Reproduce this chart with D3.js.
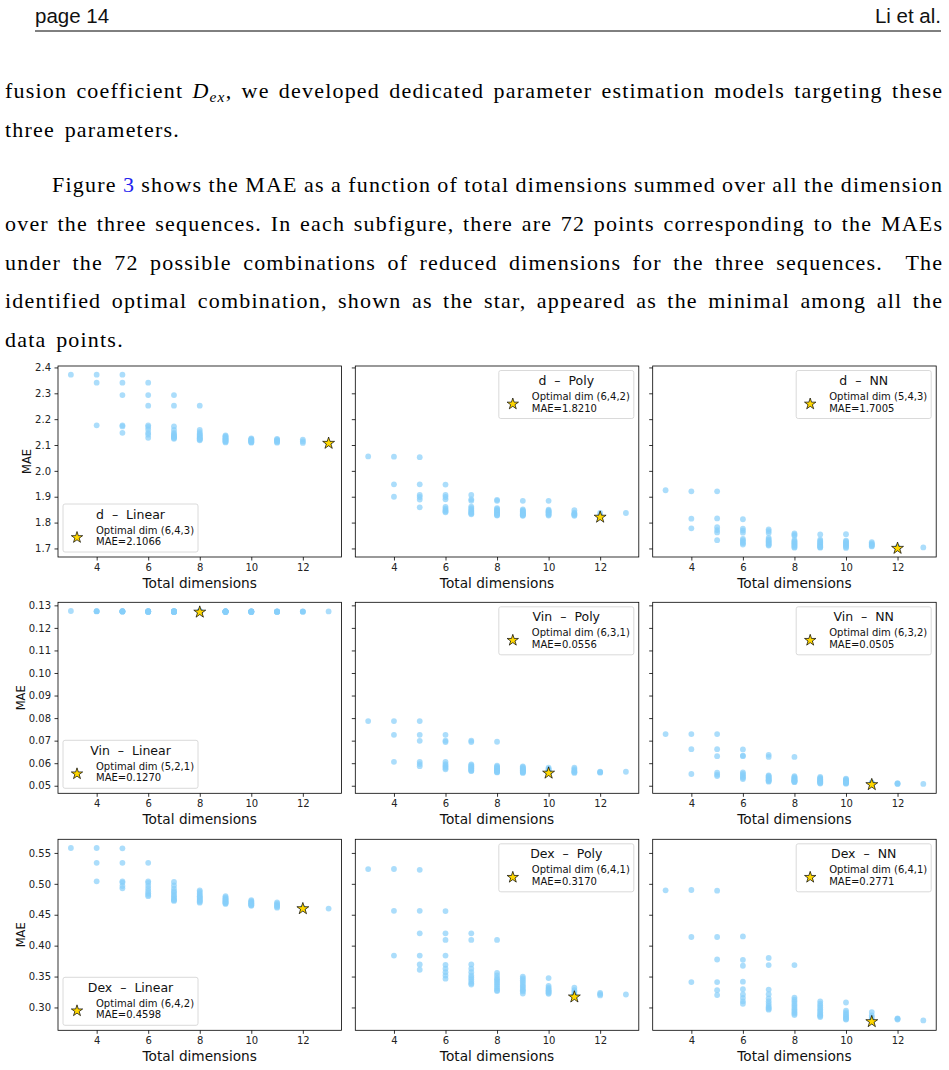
<!DOCTYPE html>
<html>
<head>
<meta charset="utf-8">
<script src="https://cdn.jsdelivr.net/npm/d3@7"></script>
<style>
  body { margin: 0; background: #fff; }
  svg { display: block; }
</style>
</head>
<body>
<div id="page"></div>
<script>
// total dimensions summed over the three sequences (x values of each group below)
const totalDims = [3, 4, 5, 6, 7, 8, 9, 10, 11, 12, 13];
const xTicks = [4, 6, 8, 10, 12];

// MAE values, one inner array per total dimension (72 combinations per panel)
const dLinear = [
  [2.372],
  [2.372, 2.341, 2.176],
  [2.372, 2.341, 2.293, 2.176, 2.172, 2.147],
  [2.341, 2.293, 2.252, 2.176, 2.170, 2.160, 2.147, 2.140, 2.128],
  [2.293, 2.252, 2.172, 2.158, 2.147, 2.142, 2.137, 2.133, 2.130, 2.127, 2.124],
  [2.252, 2.158, 2.150, 2.144, 2.140, 2.136, 2.132, 2.129, 2.126, 2.123, 2.121, 2.118],
  [2.137, 2.134, 2.131, 2.128, 2.125, 2.123, 2.121, 2.118, 2.115, 2.113, 2.110],
  [2.126, 2.123, 2.121, 2.119, 2.117, 2.115, 2.113, 2.111, 2.109],
  [2.124, 2.121, 2.118, 2.115, 2.112, 2.109],
  [2.121, 2.114, 2.108],
  [2.1066]
];
const dPoly = [
  [2.056],
  [2.055, 1.948, 1.900],
  [2.053, 1.948, 1.907, 1.899, 1.889, 1.859],
  [1.947, 1.907, 1.899, 1.890, 1.861, 1.854, 1.848, 1.843, 1.840],
  [1.907, 1.890, 1.884, 1.862, 1.856, 1.851, 1.846, 1.842, 1.838, 1.835, 1.832],
  [1.888, 1.884, 1.856, 1.852, 1.848, 1.845, 1.842, 1.838, 1.835, 1.832, 1.829, 1.827],
  [1.884, 1.851, 1.847, 1.844, 1.841, 1.838, 1.835, 1.832, 1.830, 1.828, 1.826],
  [1.884, 1.850, 1.846, 1.843, 1.840, 1.837, 1.833, 1.830, 1.827],
  [1.848, 1.838, 1.835, 1.832, 1.829, 1.826],
  [1.837, 1.828, 1.8210],
  [1.837]
];
const dNN = [
  [1.925],
  [1.921, 1.815, 1.778],
  [1.921, 1.816, 1.782, 1.771, 1.762, 1.732],
  [1.813, 1.777, 1.769, 1.761, 1.737, 1.731, 1.725, 1.720, 1.715],
  [1.774, 1.767, 1.760, 1.741, 1.735, 1.730, 1.726, 1.722, 1.718, 1.714, 1.711],
  [1.758, 1.753, 1.749, 1.733, 1.728, 1.724, 1.720, 1.717, 1.713, 1.710, 1.706, 1.703],
  [1.754, 1.734, 1.729, 1.725, 1.721, 1.718, 1.714, 1.711, 1.708, 1.705, 1.703],
  [1.755, 1.730, 1.726, 1.722, 1.718, 1.714, 1.710, 1.706, 1.702],
  [1.724, 1.720, 1.716, 1.713, 1.710, 1.708],
  [1.706, 1.703, 1.7005],
  [1.704]
];
const vinLinear = [
  [0.1275],
  [0.1274, 0.1274, 0.1273],
  [0.1274, 0.1274, 0.1273, 0.1273, 0.1273, 0.1272],
  [0.1274, 0.1274, 0.1273, 0.1273, 0.1273, 0.1272, 0.1272, 0.1272, 0.1271],
  [0.1274, 0.1274, 0.1273, 0.1273, 0.1273, 0.1273, 0.1272, 0.1272, 0.1272, 0.1271, 0.1271],
  [0.1274, 0.1274, 0.1273, 0.1273, 0.1273, 0.1273, 0.1272, 0.1272, 0.1272, 0.1271, 0.1271, 0.1270],
  [0.1274, 0.1273, 0.1273, 0.1273, 0.1273, 0.1272, 0.1272, 0.1272, 0.1272, 0.1271, 0.1271],
  [0.1273, 0.1273, 0.1273, 0.1273, 0.1272, 0.1272, 0.1272, 0.1271, 0.1271],
  [0.1273, 0.1273, 0.1272, 0.1272, 0.1272, 0.1271],
  [0.1273, 0.1272, 0.1272],
  [0.1273]
];
const vinPoly = [
  [0.0787],
  [0.0787, 0.0726, 0.0606],
  [0.0787, 0.0726, 0.0699, 0.0606, 0.0596, 0.0587],
  [0.0726, 0.0700, 0.0694, 0.0606, 0.0596, 0.0590, 0.0584, 0.0579, 0.0573],
  [0.0700, 0.0694, 0.0595, 0.0590, 0.0586, 0.0582, 0.0578, 0.0574, 0.0570, 0.0567, 0.0565],
  [0.0695, 0.0589, 0.0585, 0.0581, 0.0577, 0.0574, 0.0571, 0.0568, 0.0566, 0.0563, 0.0561, 0.0559],
  [0.0586, 0.0582, 0.0578, 0.0575, 0.0572, 0.0569, 0.0566, 0.0563, 0.0561, 0.0559, 0.0557],
  [0.0580, 0.0575, 0.0571, 0.0567, 0.0564, 0.0561, 0.0559, 0.0557, 0.0556],
  [0.0580, 0.0574, 0.0568, 0.0563, 0.0560, 0.0557],
  [0.0562, 0.0560, 0.0558],
  [0.0562]
];
const vinNN = [
  [0.0729],
  [0.0729, 0.0662, 0.0552],
  [0.0729, 0.0662, 0.0631, 0.0558, 0.0549, 0.0543],
  [0.0661, 0.0634, 0.0631, 0.0559, 0.0553, 0.0546, 0.0540, 0.0535, 0.0530],
  [0.0637, 0.0628, 0.0546, 0.0542, 0.0538, 0.0534, 0.0530, 0.0527, 0.0524, 0.0521, 0.0518],
  [0.0628, 0.0542, 0.0538, 0.0535, 0.0532, 0.0529, 0.0526, 0.0524, 0.0522, 0.0520, 0.0518, 0.0516],
  [0.0539, 0.0535, 0.0532, 0.0529, 0.0526, 0.0523, 0.0520, 0.0518, 0.0515, 0.0512, 0.0510],
  [0.0532, 0.0528, 0.0525, 0.0522, 0.0519, 0.0516, 0.0513, 0.0511, 0.0509],
  [0.0515, 0.0512, 0.0510, 0.0508, 0.0506, 0.0505],
  [0.0511, 0.0509, 0.0508],
  [0.0508]
];
const dexLinear = [
  [0.558],
  [0.558, 0.534, 0.504],
  [0.5575, 0.534, 0.504, 0.502, 0.4965, 0.4927],
  [0.534, 0.504, 0.5015, 0.4965, 0.4922, 0.488, 0.4847, 0.482, 0.480],
  [0.503, 0.4975, 0.4922, 0.488, 0.4858, 0.4825, 0.480, 0.4777, 0.475, 0.4735, 0.4724],
  [0.4895, 0.487, 0.4845, 0.482, 0.480, 0.4785, 0.477, 0.4755, 0.474, 0.4725, 0.471, 0.4695],
  [0.480, 0.478, 0.4765, 0.475, 0.474, 0.4728, 0.4715, 0.4705, 0.4695, 0.4685, 0.4675],
  [0.4735, 0.472, 0.4705, 0.4695, 0.4685, 0.4675, 0.4665, 0.4655, 0.4645],
  [0.470, 0.468, 0.466, 0.4645, 0.463, 0.4615],
  [0.4612, 0.4605, 0.4598],
  [0.460]
];
const dexPoly = [
  [0.5238],
  [0.524, 0.4563, 0.384],
  [0.5227, 0.4563, 0.420, 0.384, 0.3696, 0.361],
  [0.456, 0.420, 0.4092, 0.384, 0.369, 0.3626, 0.357, 0.3517, 0.3465],
  [0.420, 0.4092, 0.3696, 0.3626, 0.357, 0.3517, 0.3485, 0.3455, 0.342, 0.339, 0.337],
  [0.4092, 0.356, 0.352, 0.348, 0.3455, 0.343, 0.340, 0.337, 0.334, 0.331, 0.328, 0.3265],
  [0.350, 0.347, 0.344, 0.341, 0.338, 0.335, 0.333, 0.330, 0.328, 0.326, 0.3225],
  [0.3475, 0.335, 0.332, 0.330, 0.328, 0.3265, 0.325, 0.3235, 0.322],
  [0.332, 0.328, 0.325, 0.322, 0.320, 0.317],
  [0.3235, 0.3215, 0.3195],
  [0.321]
];
const dexNN = [
  [0.4895],
  [0.490, 0.414, 0.341],
  [0.489, 0.414, 0.3776, 0.341, 0.328, 0.320],
  [0.415, 0.377, 0.3675, 0.3417, 0.3295, 0.321, 0.3155, 0.310, 0.306],
  [0.380, 0.3685, 0.329, 0.3215, 0.3145, 0.310, 0.306, 0.3025, 0.300, 0.298, 0.2965],
  [0.3685, 0.316, 0.3125, 0.3095, 0.306, 0.303, 0.300, 0.297, 0.2945, 0.292, 0.290, 0.2877],
  [0.310, 0.306, 0.303, 0.300, 0.297, 0.2945, 0.292, 0.2895, 0.2875, 0.286, 0.2845],
  [0.308, 0.295, 0.292, 0.2895, 0.287, 0.285, 0.283, 0.2815, 0.2805],
  [0.2925, 0.287, 0.284, 0.281, 0.279, 0.2771],
  [0.2825, 0.2815, 0.2805],
  [0.279]
];

const params = ['d', 'Vin', 'Dex'];
const models = ['Linear', 'Poly', 'NN'];
const panelData = [
  [dLinear, dPoly, dNN],
  [vinLinear, vinPoly, vinNN],
  [dexLinear, dexPoly, dexNN]
];
const optimalDims = [
  ['(6,4,3)', '(6,4,2)', '(5,4,3)'],
  ['(5,2,1)', '(6,3,1)', '(6,3,2)'],
  ['(6,4,2)', '(6,4,1)', '(6,4,1)']
];
const optimalMAE = [
  [2.1066, 1.8210, 1.7005],
  [0.1270, 0.0556, 0.0505],
  [0.4598, 0.3170, 0.2771]
];
const yTicks = [
  [1.7, 1.8, 1.9, 2.0, 2.1, 2.2, 2.3, 2.4],
  [0.05, 0.06, 0.07, 0.08, 0.09, 0.10, 0.11, 0.12, 0.13],
  [0.30, 0.35, 0.40, 0.45, 0.50, 0.55]
];
const yFormats = ['.1f', '.2f', '.2f'];

// page text
const paragraph1 = [
  ['fusion coefficient ', 'Dex', ', we developed dedicated parameter estimation models targeting these'],
  ['three parameters.']
];
const paragraph2 = [
  'Figure 3 shows the MAE as a function of total dimensions summed over all the dimension',
  'over the three sequences. In each subfigure, there are 72 points corresponding to the MAEs',
  'under the 72 possible combinations of reduced dimensions for the three sequences.  The',
  'identified optimal combination, shown as the star, appeared as the minimal among all the',
  'data points.'
];

const W = 949, H = 1070;
const svg = d3.select('#page').append('svg').attr('width', W).attr('height', H);

// ---- header ----
svg.append('text').attr('x', 35).attr('y', 23)
  .attr('font-family', 'Liberation Sans, Arial, sans-serif').attr('font-size', 20.5).attr('fill', '#111')
  .text('page 14');
svg.append('text').attr('x', 941).attr('y', 23).attr('text-anchor', 'end')
  .attr('font-family', 'Liberation Sans, Arial, sans-serif').attr('font-size', 20.5).attr('fill', '#111')
  .text('Li et al.');
svg.append('line').attr('x1', 35).attr('x2', 941).attr('y1', 31).attr('y2', 31)
  .attr('stroke', '#000').attr('stroke-width', 1);

// ---- body text (letter-spaced, justified by word spacing) ----
const serif = 'Liberation Serif, Times New Roman, serif';
const textLeft = 5, textRight = 942, fontSize = 22, letterSp = 1.2;

function bodyText(xPos, yPos) {
  return svg.append('text').attr('x', xPos).attr('y', yPos)
    .attr('font-family', serif).attr('font-size', fontSize).attr('fill', '#000')
    .style('letter-spacing', letterSp + 'px').style('white-space', 'pre');
}

function justify(t, x0, last) {
  if (last) { t.style('word-spacing', '3px'); return; }
  const natural = t.node().getComputedTextLength();
  const gaps = (t.text().match(/ /g) || []).length;
  if (gaps > 0) t.style('word-spacing', ((textRight - x0 - natural + letterSp) / gaps) + 'px');
}

const line1 = bodyText(textLeft, 98);
line1.append('tspan').text(paragraph1[0][0]);
line1.append('tspan').attr('font-style', 'italic').text(paragraph1[0][1].charAt(0));
line1.append('tspan').attr('font-style', 'italic').attr('font-size', 15.5).attr('dy', 4).text(paragraph1[0][1].slice(1));
line1.append('tspan').attr('dy', -4).text(paragraph1[0][2]);
justify(line1, textLeft, false);

justify(bodyText(textLeft, 137).text(paragraph1[1][0]), textLeft, true);

paragraph2.forEach((s, i) => {
  const x0 = i === 0 ? 52 : textLeft;
  const t = bodyText(x0, 192 + i * 38.8);
  if (i === 0) {
    t.append('tspan').text('Figure ');
    t.append('tspan').attr('fill', '#2222ee').text('3');
    t.append('tspan').text(s.slice(8));
  } else {
    t.text(s);
  }
  justify(t, x0, i === paragraph2.length - 1);
});

// ---- figure grid ----
const colX = [58, 355.3, 652.7];
const rowY = [366, 602.3, 839.3];
const pw = 283.5, ph = 191;
const sans = 'DejaVu Sans, Verdana, sans-serif';
const dotColor = '#87CEFA';
const maeLabelX = [-27.5, -33.5, -33.5];

const x = d3.scaleLinear().domain([2.5, 13.5]).range([0, pw]);
const starPath = d3.symbol().type(d3.symbolStar).size(44);
const starSmall = d3.symbol().type(d3.symbolStar).size(40);

panelData.forEach((row, r) => {
  const all = row.flat(2);
  const [lo, hi] = d3.extent(all);
  const pad = (hi - lo) * 0.05;
  const y = d3.scaleLinear().domain([lo - pad, hi + pad]).range([ph, 0]);

  row.forEach((groups, c) => {
    const g = svg.append('g').attr('transform', `translate(${colX[c]},${rowY[r]})`);

    const pts = [];
    groups.forEach((vals, i) => vals.forEach(v => pts.push({ dim: totalDims[i], mae: v })));

    g.append('g').selectAll('circle').data(pts).join('circle')
      .attr('cx', d => x(d.dim)).attr('cy', d => y(d.mae)).attr('r', 2.9)
      .attr('fill', dotColor).attr('fill-opacity', 0.7);

    const opt = optimalDims[r][c];
    const optSum = d3.sum(opt.replace(/[()]/g, '').split(',').map(Number));
    g.append('path').attr('d', starPath)
      .attr('transform', `translate(${x(optSum)},${y(optimalMAE[r][c])})`)
      .attr('fill', '#FFD700').attr('stroke', '#000').attr('stroke-width', 0.7);

    // axes
    const xAxis = g.append('g').attr('transform', `translate(0,${ph})`)
      .call(d3.axisBottom(x).tickValues(xTicks).tickSize(3.5).tickPadding(3.5));
    const yAxis = g.append('g')
      .call(d3.axisLeft(y).tickValues(yTicks[r]).tickSize(3.5).tickPadding(3.5)
        .tickFormat(c === 0 ? d3.format(yFormats[r]) : () => ''));
    [xAxis, yAxis].forEach(a => {
      a.select('.domain').remove();
      a.selectAll('line').attr('stroke', '#000').attr('stroke-width', 0.8);
      a.selectAll('text').attr('font-family', sans).attr('font-size', 10).attr('fill', '#222');
    });

    g.append('rect').attr('width', pw).attr('height', ph)
      .attr('fill', 'none').attr('stroke', '#000').attr('stroke-width', 0.8);

    g.append('text').attr('x', pw / 2).attr('y', ph + 31).attr('text-anchor', 'middle')
      .attr('font-family', sans).attr('font-size', 13.7).attr('fill', '#111')
      .text('Total dimensions');
    if (c === 0) {
      g.append('text').attr('transform', `translate(${maeLabelX[r]},${ph / 2}) rotate(-90)`)
        .attr('text-anchor', 'middle').attr('font-family', sans).attr('font-size', 11.5).attr('fill', '#111')
        .text('MAE');
    }

    // legend
    const lw = 135, lh = 48;
    const lx = c === 0 ? 5 : pw - 5 - lw;
    const ly = c === 0 ? ph - 5 - lh : 4.5;
    const lg = g.append('g').attr('transform', `translate(${lx},${ly})`);
    lg.append('rect').attr('width', lw).attr('height', lh).attr('rx', 2)
      .attr('fill', '#fff').attr('fill-opacity', 0.8).attr('stroke', '#d0d0d0').attr('stroke-width', 0.8);
    lg.append('text').attr('x', lw / 2).attr('y', 14.5).attr('text-anchor', 'middle')
      .attr('font-family', sans).attr('font-size', 12.5).attr('fill', '#111').style('white-space', 'pre')
      .text(`${params[r]}  \u2013  ${models[c]}`);
    lg.append('path').attr('d', starSmall).attr('transform', 'translate(14,33.5)')
      .attr('fill', '#FFD700').attr('stroke', '#000').attr('stroke-width', 0.7);
    lg.append('text').attr('x', 33).attr('y', 29.5)
      .attr('font-family', sans).attr('font-size', 10).attr('fill', '#111')
      .text(`Optimal dim ${opt}`);
    lg.append('text').attr('x', 33).attr('y', 41)
      .attr('font-family', sans).attr('font-size', 10).attr('fill', '#111')
      .text(`MAE=${optimalMAE[r][c].toFixed(4)}`);
  });
});
</script>
</body>
</html>
